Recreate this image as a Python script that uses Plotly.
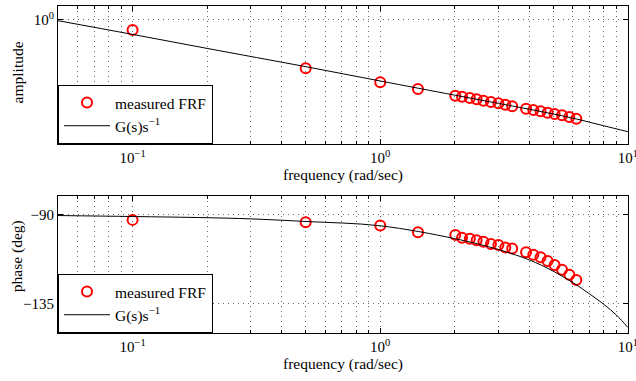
import math
import plotly.graph_objects as go

# ---- data ----
freq_meas = [0.1, 0.5, 1.0, 1.42, 2.01, 2.14, 2.30, 2.45, 2.61, 2.80, 3.00,
             3.20, 3.41, 3.88, 4.15, 4.44, 4.74, 5.06, 5.42, 5.80, 6.19]
amp_meas = [0.606, 0.0891, 0.0445, 0.0316, 0.0226, 0.0215, 0.0202, 0.0189,
            0.0176, 0.0165, 0.0155, 0.0144, 0.0133, 0.0118, 0.0110, 0.0104,
            0.00966, 0.00905, 0.00848, 0.00778, 0.00715]
phase_meas = [-92.5, -93.7, -95.4, -98.8, -100.1, -101.6, -102.1, -102.8,
              -103.6, -104.7, -105.2, -106.5, -107.0, -108.9, -110.1, -111.4,
              -113.3, -115.4, -117.8, -120.3, -122.9]

freq_model_amp = [0.05, 0.1, 0.2, 0.5, 1.0, 2.0, 3.0, 3.41, 4.0, 5.0, 6.19, 8.0, 10.0]
amp_model = [0.966, 0.486, 0.241, 0.0966, 0.0472, 0.0232, 0.0154, 0.0135,
             0.01145, 0.00905, 0.00705, 0.00501, 0.00373]

freq_model_ph = [0.05, 0.1, 0.2, 0.3, 0.5, 1.0, 2.0, 3.0, 4.0, 5.0, 6.0, 7.0, 8.0, 9.0, 10.0]
phase_model = [-90.3, -90.8, -91.4, -92.0, -93.3, -95.5, -102.0, -107.5,
               -112.8, -118.5, -124.3, -130.0, -135.3, -140.8, -147.0]

x_major = [0.1, 1, 10]
x_major_text = ["10<sup>\u22121</sup>", "10<sup>0</sup>", "10<sup>1</sup>"]
x_minor = [0.06, 0.07, 0.08, 0.09, 0.2, 0.3, 0.4, 0.5, 0.6, 0.7, 0.8, 0.9,
           2, 3, 4, 5, 6, 7, 8, 9]
amp_ticks = [1]
amp_ticktext = ["10<sup>0</sup>"]
phase_ticks = [-135, -90]
phase_ticktext = ["\u2212135", "\u221290"]

legend_names = ["measured FRF", "G(s)s<sup>\u22121</sup>"]
x_title = "frequency (rad/sec)"
y_titles = ["amplitude", "phase (deg)"]

FONT = "Liberation Serif, Times New Roman, serif"
RED = "#ff0000"
GRID = "rgba(40,40,40,0.7)"
DASH = "1px,4px"

fig = go.Figure()

fig.add_trace(go.Scatter(x=freq_meas, y=amp_meas, mode="markers", name=legend_names[0],
                         marker=dict(symbol="circle-open", size=10, color=RED,
                                     line=dict(width=2, color=RED)),
                         xaxis="x", yaxis="y", legend="legend"))
fig.add_trace(go.Scatter(x=freq_model_amp, y=amp_model, mode="lines", name=legend_names[1],
                         line=dict(color="black", width=1, shape="spline"),
                         xaxis="x", yaxis="y", legend="legend"))
fig.add_trace(go.Scatter(x=freq_meas, y=phase_meas, mode="markers", name=legend_names[0],
                         marker=dict(symbol="circle-open", size=10, color=RED,
                                     line=dict(width=2, color=RED)),
                         xaxis="x2", yaxis="y2", legend="legend2"))
fig.add_trace(go.Scatter(x=freq_model_ph, y=phase_model, mode="lines", name=legend_names[1],
                         line=dict(color="black", width=1, shape="spline"),
                         xaxis="x2", yaxis="y2", legend="legend2"))


def xaxis_cfg(anchor):
    return dict(
        type="log", range=[math.log10(0.05), 1.0004], anchor=anchor, automargin=False,
        tickmode="array", tickvals=x_major, ticktext=x_major_text,
        ticklabeloverflow="allow",
        ticks="inside", ticklen=5, tickcolor="black",
        showline=True, linecolor="black", linewidth=1, mirror="ticks",
        showgrid=True, gridcolor=GRID, griddash=DASH, gridwidth=1,
        minor=dict(tickmode="array", tickvals=x_minor, ticks="inside", ticklen=3,
                   tickcolor="black", showgrid=True, gridcolor=GRID, griddash=DASH,
                   gridwidth=1),
        zeroline=False,
        tickfont=dict(family=FONT, size=15, color="black"),
        title=dict(text=x_title, font=dict(family=FONT, size=15.5, color="black"),
                   standoff=2),
    )


def yaxis_cfg(**kw):
    d = dict(
        automargin=False, ticks="inside", ticklen=5, tickcolor="black",
        showline=True, linecolor="black", linewidth=1, mirror="ticks",
        showgrid=True, gridcolor=GRID, griddash=DASH, gridwidth=1, zeroline=False,
        tickmode="array",
        tickfont=dict(family=FONT, size=15, color="black"),
    )
    d.update(kw)
    return d


legend_common = dict(xref="paper", yref="paper", xanchor="left", yanchor="bottom",
                     bgcolor="white", bordercolor="black", borderwidth=1,
                     font=dict(family=FONT, size=15.5, color="black"), itemwidth=46,
                     tracegroupgap=0)

fig.update_layout(
    width=636, height=381,
    margin=dict(l=58, r=8, t=6, b=48, autoexpand=False),
    paper_bgcolor="white", plot_bgcolor="white",
    font=dict(family=FONT, color="black"),
    xaxis=xaxis_cfg("y"),
    xaxis2=xaxis_cfg("y2"),
    yaxis=yaxis_cfg(
        type="log", range=[-2.696, 0.304], domain=[0.578, 1.0], anchor="x",
        tickvals=amp_ticks, ticktext=amp_ticktext,
    ),
    yaxis2=yaxis_cfg(
        range=[-149.8, -80.4], domain=[0.0, 0.419], anchor="x2",
        tickvals=phase_ticks, ticktext=phase_ticktext,
    ),
    legend=dict(x=0, y=0.578, **legend_common),
    legend2=dict(x=0, y=0.0, **legend_common),
    showlegend=True,
    annotations=[
        dict(text=y_titles[0], textangle=-90, xref="paper", yref="paper",
             x=0, y=0.797, xanchor="center", yanchor="middle", xshift=-41,
             showarrow=False, font=dict(family=FONT, size=15.5, color="black")),
        dict(text=y_titles[1], textangle=-90, xref="paper", yref="paper",
             x=0, y=0.235, xanchor="center", yanchor="middle", xshift=-41,
             showarrow=False, font=dict(family=FONT, size=15.5, color="black")),
    ],
)

fig.write_html("out.html", config={"displayModeBar": False},
               post_script="document.body.style.margin='0';")
